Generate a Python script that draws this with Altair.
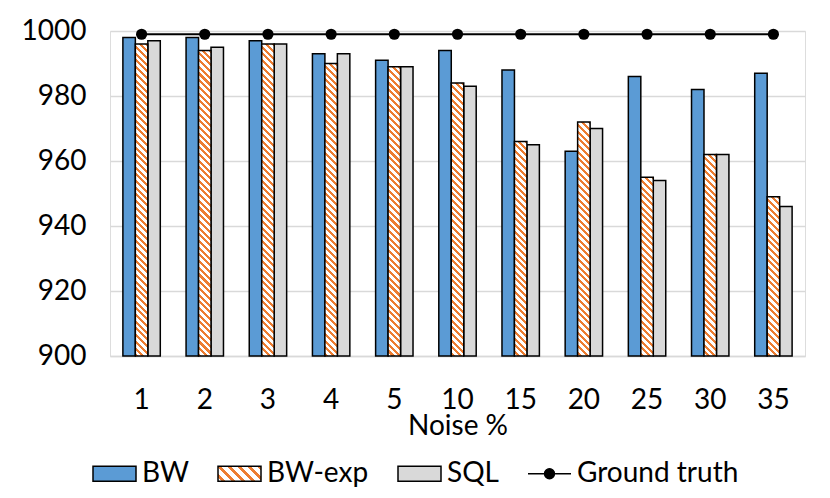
import json
import altair as alt
import pandas as pd

# ---------------- data ----------------
CATEGORIES = ["1", "2", "3", "4", "5", "10", "15", "20", "25", "30", "35"]
SERIES = ["BW", "BW-exp", "SQL", "Ground truth"]
BW = [998, 998, 997, 993, 991, 994, 988, 963, 986, 982, 987]
BW_EXP = [996, 994, 996, 990, 989, 984, 966, 972, 955, 962, 949]
SQL = [997, 995, 996, 993, 989, 983, 965, 970, 954, 962, 946]
GROUND_TRUTH = [999, 999, 999, 999, 999, 999, 999, 999, 999, 999, 999]
Y_TICKS = [900, 920, 940, 960, 980, 1000]

# ---------------- style ----------------
BLUE = "#5B9BD5"
ORANGE = "#ED7D31"
GRAY = "#D9D9D9"
FONT = "Lato"
FS = 28

W, H = 695, 325
Y_MIN, Y_MAX = 900, 1000
P_INNER = 0.408
P_OUTER = 0.204
STEP = W / (len(CATEGORIES) - P_INNER + 2 * P_OUTER)
BAR_W = STEP * (1 - P_INNER) / 3


def stripe_gradient(w, h, period, frac=0.45, c1=ORANGE, c2="white"):
    r = w / h
    s = (1 + r) / (1 + r * r)
    n = (w + h) / period
    stops = []
    k = 0
    while k / n < 1:
        a = k / n
        b = min((k + frac) / n, 1)
        c = min((k + 1) / n, 1)
        stops += [(a, c1), (b, c1), (b, c2), (c, c2)]
        k += 1
    return {
        "gradient": "linear",
        "x1": 1, "y1": 0,
        "x2": round(1 - s * r, 5), "y2": round(s, 5),
        "stops": [{"offset": round(o, 5), "color": col} for o, col in stops],
    }


rows = []
for name, vals in [("BW", BW), ("BW-exp", BW_EXP), ("SQL", SQL)]:
    for c, v in zip(CATEGORIES, vals):
        rows.append({"category": c, "series": name, "value": v})
df = pd.DataFrame(rows)
gt = pd.DataFrame({"category": CATEGORIES, "value": GROUND_TRUTH})

X = alt.X(
    "category:N",
    sort=CATEGORIES,
    scale=alt.Scale(paddingInner=P_INNER, paddingOuter=P_OUTER),
    axis=alt.Axis(
        title="Noise %", labelAngle=0, ticks=False, tickSize=0, labelPadding=30,
        labelFont=FONT, labelFontSize=FS, labelColor="black",
        titleFont=FONT, titleFontSize=FS, titleFontWeight="normal", titleColor="black",
        titleY=78, titleBaseline="alphabetic",
        domainColor=GRAY, domainWidth=1.5, grid=False,
    ),
)
Y = alt.Y(
    "value:Q",
    scale=alt.Scale(domain=[Y_MIN, Y_MAX], nice=False, zero=False),
    axis=alt.Axis(
        values=Y_TICKS, format="d", title=None, grid=True, gridColor=GRAY, gridWidth=1.5,
        domain=False, ticks=False, tickSize=0, labelPadding=24,
        labelFont=FONT, labelFontSize=FS, labelColor="black",
    ),
)
XOFF = alt.XOffset("series:N", scale=alt.Scale(domain=SERIES[:3], paddingInner=0, paddingOuter=0))

legend_grad = stripe_gradient(43, 15, 10)
RECT_PATH = "M-1,-0.35H1V0.35H-1Z"
LINE_PATH = "M-1,0H1M-0.23,0A0.23,0.23,0,1,1,0.23,0A0.23,0.23,0,1,1,-0.23,0Z"

FILL = alt.Fill(
    "series:N",
    scale=alt.Scale(domain=SERIES, range=[BLUE, {"expr": json.dumps(legend_grad)}, GRAY, "black"]),
    legend=alt.Legend(
        title=None, orient="none", legendX=-18, legendY=420, direction="horizontal",
        columns=4, columnPadding=26, labelOffset=5, padding=0,
        symbolSize=1849,
        symbolType={"expr": "datum.value == 'Ground truth' ? '%s' : '%s'" % (LINE_PATH, RECT_PATH)},
        symbolStrokeColor="black", symbolStrokeWidth=1.5, symbolOpacity=1,
        labelFont=FONT, labelFontSize=FS, labelColor="black", labelLimit=0,
    ),
)

base = alt.Chart(df)

bars = base.transform_filter(
    alt.FieldOneOfPredicate(field="series", oneOf=["BW", "SQL"])
).mark_bar(stroke="black", strokeWidth=1.5).encode(
    x=X, xOffset=XOFF, y=Y, y2=alt.datum(Y_MIN), fill=FILL
)

layers = [bars]
for c, v in zip(CATEGORIES, BW_EXP):
    h = (v - Y_MIN) * H / (Y_MAX - Y_MIN)
    g = stripe_gradient(BAR_W, h, 6.7)
    layers.append(
        base.transform_filter(
            (alt.datum.series == "BW-exp") & (alt.datum.category == c)
        ).mark_bar(fill=g, stroke="black", strokeWidth=1.5).encode(
            x=X, xOffset=XOFF, y=Y, y2=alt.datum(Y_MIN)
        )
    )

line = alt.Chart(gt).mark_line(color="black", strokeWidth=2).encode(x=X, y=Y)
points = alt.Chart(gt).mark_circle(color="black", size=125, opacity=1).encode(x=X, y=Y)
layers += [line, points]

chart = alt.layer(*layers).properties(
    width=W, height=H,
    padding={"left": 102, "top": 23, "right": 10, "bottom": 140},
    autosize="none",
).configure_view(stroke=None).configure(background="white")

chart.save("out.html", embed_options={"renderer": "svg", "actions": False})
